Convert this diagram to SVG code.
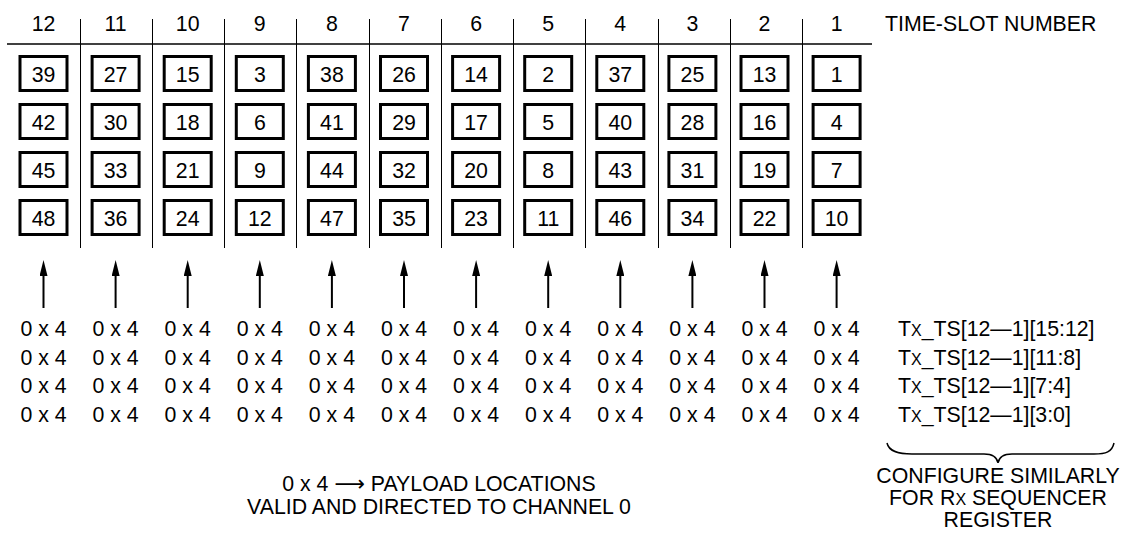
<svg xmlns="http://www.w3.org/2000/svg" width="1123" height="535" viewBox="0 0 1123 535">
<defs>
<style>
text{font-family:"Liberation Sans",Arial,sans-serif;font-size:21.3px;fill:#000}
.c{text-anchor:middle}
.box rect{fill:#fff;stroke:#000;stroke-width:3}
.div{stroke:#000;stroke-width:1}
.arr{stroke:#000;stroke-width:2;fill:none}
.sc{font-size:16px}
</style>
<marker id="ah" markerUnits="userSpaceOnUse" markerWidth="16" markerHeight="8" viewBox="0 0 16 8" refX="0" refY="4" orient="auto">
<path d="M0,0 L16,4 L0,8 z" fill="#000"/>
</marker>
</defs>
<rect width="1123" height="535" fill="#fff"/>

<g id="header">
<line x1="7" y1="44" x2="872" y2="44" stroke="#000" stroke-width="1.5"/>
<text class="c" x="43.5" y="31">12</text>
<text class="c" x="115.6" y="31">11</text>
<text class="c" x="187.7" y="31">10</text>
<text class="c" x="259.8" y="31">9</text>
<text class="c" x="331.9" y="31">8</text>
<text class="c" x="404" y="31">7</text>
<text class="c" x="476.1" y="31">6</text>
<text class="c" x="548.2" y="31">5</text>
<text class="c" x="620.3" y="31">4</text>
<text class="c" x="692.4" y="31">3</text>
<text class="c" x="764.5" y="31">2</text>
<text class="c" x="836.6" y="31">1</text>
<text x="885" y="31">TIME-SLOT NUMBER</text>
</g>

<g id="dividers">
<line class="div" x1="80.5" y1="19" x2="80.5" y2="248"/>
<line class="div" x1="152.5" y1="19" x2="152.5" y2="248"/>
<line class="div" x1="224.5" y1="19" x2="224.5" y2="248"/>
<line class="div" x1="296.5" y1="19" x2="296.5" y2="248"/>
<line class="div" x1="369.5" y1="19" x2="369.5" y2="248"/>
<line class="div" x1="441.5" y1="19" x2="441.5" y2="248"/>
<line class="div" x1="513.5" y1="19" x2="513.5" y2="248"/>
<line class="div" x1="585.5" y1="19" x2="585.5" y2="248"/>
<line class="div" x1="658.5" y1="19" x2="658.5" y2="248"/>
<line class="div" x1="730.5" y1="19" x2="730.5" y2="248"/>
<line class="div" x1="802.5" y1="19" x2="802.5" y2="248"/>
</g>

<g id="col-12" transform="translate(43.5,0)">
<g id="box-39" class="box"><rect x="-23.5" y="56.5" width="47" height="34"/><text class="c" y="82">39</text></g>
<g id="box-42" class="box"><rect x="-23.5" y="104.5" width="47" height="34"/><text class="c" y="130">42</text></g>
<g id="box-45" class="box"><rect x="-23.5" y="152.5" width="47" height="34"/><text class="c" y="178">45</text></g>
<g id="box-48" class="box"><rect x="-23.5" y="200.5" width="47" height="34"/><text class="c" y="226">48</text></g>
</g>
<g id="col-11" transform="translate(115.6,0)">
<g id="box-27" class="box"><rect x="-23.5" y="56.5" width="47" height="34"/><text class="c" y="82">27</text></g>
<g id="box-30" class="box"><rect x="-23.5" y="104.5" width="47" height="34"/><text class="c" y="130">30</text></g>
<g id="box-33" class="box"><rect x="-23.5" y="152.5" width="47" height="34"/><text class="c" y="178">33</text></g>
<g id="box-36" class="box"><rect x="-23.5" y="200.5" width="47" height="34"/><text class="c" y="226">36</text></g>
</g>
<g id="col-10" transform="translate(187.7,0)">
<g id="box-15" class="box"><rect x="-23.5" y="56.5" width="47" height="34"/><text class="c" y="82">15</text></g>
<g id="box-18" class="box"><rect x="-23.5" y="104.5" width="47" height="34"/><text class="c" y="130">18</text></g>
<g id="box-21" class="box"><rect x="-23.5" y="152.5" width="47" height="34"/><text class="c" y="178">21</text></g>
<g id="box-24" class="box"><rect x="-23.5" y="200.5" width="47" height="34"/><text class="c" y="226">24</text></g>
</g>
<g id="col-9" transform="translate(259.8,0)">
<g id="box-3" class="box"><rect x="-23.5" y="56.5" width="47" height="34"/><text class="c" y="82">3</text></g>
<g id="box-6" class="box"><rect x="-23.5" y="104.5" width="47" height="34"/><text class="c" y="130">6</text></g>
<g id="box-9" class="box"><rect x="-23.5" y="152.5" width="47" height="34"/><text class="c" y="178">9</text></g>
<g id="box-12" class="box"><rect x="-23.5" y="200.5" width="47" height="34"/><text class="c" y="226">12</text></g>
</g>
<g id="col-8" transform="translate(331.9,0)">
<g id="box-38" class="box"><rect x="-23.5" y="56.5" width="47" height="34"/><text class="c" y="82">38</text></g>
<g id="box-41" class="box"><rect x="-23.5" y="104.5" width="47" height="34"/><text class="c" y="130">41</text></g>
<g id="box-44" class="box"><rect x="-23.5" y="152.5" width="47" height="34"/><text class="c" y="178">44</text></g>
<g id="box-47" class="box"><rect x="-23.5" y="200.5" width="47" height="34"/><text class="c" y="226">47</text></g>
</g>
<g id="col-7" transform="translate(404,0)">
<g id="box-26" class="box"><rect x="-23.5" y="56.5" width="47" height="34"/><text class="c" y="82">26</text></g>
<g id="box-29" class="box"><rect x="-23.5" y="104.5" width="47" height="34"/><text class="c" y="130">29</text></g>
<g id="box-32" class="box"><rect x="-23.5" y="152.5" width="47" height="34"/><text class="c" y="178">32</text></g>
<g id="box-35" class="box"><rect x="-23.5" y="200.5" width="47" height="34"/><text class="c" y="226">35</text></g>
</g>
<g id="col-6" transform="translate(476.1,0)">
<g id="box-14" class="box"><rect x="-23.5" y="56.5" width="47" height="34"/><text class="c" y="82">14</text></g>
<g id="box-17" class="box"><rect x="-23.5" y="104.5" width="47" height="34"/><text class="c" y="130">17</text></g>
<g id="box-20" class="box"><rect x="-23.5" y="152.5" width="47" height="34"/><text class="c" y="178">20</text></g>
<g id="box-23" class="box"><rect x="-23.5" y="200.5" width="47" height="34"/><text class="c" y="226">23</text></g>
</g>
<g id="col-5" transform="translate(548.2,0)">
<g id="box-2" class="box"><rect x="-23.5" y="56.5" width="47" height="34"/><text class="c" y="82">2</text></g>
<g id="box-5" class="box"><rect x="-23.5" y="104.5" width="47" height="34"/><text class="c" y="130">5</text></g>
<g id="box-8" class="box"><rect x="-23.5" y="152.5" width="47" height="34"/><text class="c" y="178">8</text></g>
<g id="box-11" class="box"><rect x="-23.5" y="200.5" width="47" height="34"/><text class="c" y="226">11</text></g>
</g>
<g id="col-4" transform="translate(620.3,0)">
<g id="box-37" class="box"><rect x="-23.5" y="56.5" width="47" height="34"/><text class="c" y="82">37</text></g>
<g id="box-40" class="box"><rect x="-23.5" y="104.5" width="47" height="34"/><text class="c" y="130">40</text></g>
<g id="box-43" class="box"><rect x="-23.5" y="152.5" width="47" height="34"/><text class="c" y="178">43</text></g>
<g id="box-46" class="box"><rect x="-23.5" y="200.5" width="47" height="34"/><text class="c" y="226">46</text></g>
</g>
<g id="col-3" transform="translate(692.4,0)">
<g id="box-25" class="box"><rect x="-23.5" y="56.5" width="47" height="34"/><text class="c" y="82">25</text></g>
<g id="box-28" class="box"><rect x="-23.5" y="104.5" width="47" height="34"/><text class="c" y="130">28</text></g>
<g id="box-31" class="box"><rect x="-23.5" y="152.5" width="47" height="34"/><text class="c" y="178">31</text></g>
<g id="box-34" class="box"><rect x="-23.5" y="200.5" width="47" height="34"/><text class="c" y="226">34</text></g>
</g>
<g id="col-2" transform="translate(764.5,0)">
<g id="box-13" class="box"><rect x="-23.5" y="56.5" width="47" height="34"/><text class="c" y="82">13</text></g>
<g id="box-16" class="box"><rect x="-23.5" y="104.5" width="47" height="34"/><text class="c" y="130">16</text></g>
<g id="box-19" class="box"><rect x="-23.5" y="152.5" width="47" height="34"/><text class="c" y="178">19</text></g>
<g id="box-22" class="box"><rect x="-23.5" y="200.5" width="47" height="34"/><text class="c" y="226">22</text></g>
</g>
<g id="col-1" transform="translate(836.6,0)">
<g id="box-1" class="box"><rect x="-23.5" y="56.5" width="47" height="34"/><text class="c" y="82">1</text></g>
<g id="box-4" class="box"><rect x="-23.5" y="104.5" width="47" height="34"/><text class="c" y="130">4</text></g>
<g id="box-7" class="box"><rect x="-23.5" y="152.5" width="47" height="34"/><text class="c" y="178">7</text></g>
<g id="box-10" class="box"><rect x="-23.5" y="200.5" width="47" height="34"/><text class="c" y="226">10</text></g>
</g>

<g id="connectors">
<line class="arr" x1="43.5" y1="308" x2="43.5" y2="276" marker-end="url(#ah)"/>
<line class="arr" x1="115.6" y1="308" x2="115.6" y2="276" marker-end="url(#ah)"/>
<line class="arr" x1="187.7" y1="308" x2="187.7" y2="276" marker-end="url(#ah)"/>
<line class="arr" x1="259.8" y1="308" x2="259.8" y2="276" marker-end="url(#ah)"/>
<line class="arr" x1="331.9" y1="308" x2="331.9" y2="276" marker-end="url(#ah)"/>
<line class="arr" x1="404" y1="308" x2="404" y2="276" marker-end="url(#ah)"/>
<line class="arr" x1="476.1" y1="308" x2="476.1" y2="276" marker-end="url(#ah)"/>
<line class="arr" x1="548.2" y1="308" x2="548.2" y2="276" marker-end="url(#ah)"/>
<line class="arr" x1="620.3" y1="308" x2="620.3" y2="276" marker-end="url(#ah)"/>
<line class="arr" x1="692.4" y1="308" x2="692.4" y2="276" marker-end="url(#ah)"/>
<line class="arr" x1="764.5" y1="308" x2="764.5" y2="276" marker-end="url(#ah)"/>
<line class="arr" x1="836.6" y1="308" x2="836.6" y2="276" marker-end="url(#ah)"/>
</g>

<g id="values">
<g transform="translate(0,336)">
<text class="c" x="43.5">0 x 4</text><text class="c" x="115.6">0 x 4</text><text class="c" x="187.7">0 x 4</text><text class="c" x="259.8">0 x 4</text><text class="c" x="331.9">0 x 4</text><text class="c" x="404">0 x 4</text><text class="c" x="476.1">0 x 4</text><text class="c" x="548.2">0 x 4</text><text class="c" x="620.3">0 x 4</text><text class="c" x="692.4">0 x 4</text><text class="c" x="764.5">0 x 4</text><text class="c" x="836.6">0 x 4</text>
<text x="898">T<tspan class="sc">X</tspan>_TS[12—1][15:12]</text>
</g>
<g transform="translate(0,364.5)">
<text class="c" x="43.5">0 x 4</text><text class="c" x="115.6">0 x 4</text><text class="c" x="187.7">0 x 4</text><text class="c" x="259.8">0 x 4</text><text class="c" x="331.9">0 x 4</text><text class="c" x="404">0 x 4</text><text class="c" x="476.1">0 x 4</text><text class="c" x="548.2">0 x 4</text><text class="c" x="620.3">0 x 4</text><text class="c" x="692.4">0 x 4</text><text class="c" x="764.5">0 x 4</text><text class="c" x="836.6">0 x 4</text>
<text x="898">T<tspan class="sc">X</tspan>_TS[12—1][11:8]</text>
</g>
<g transform="translate(0,393)">
<text class="c" x="43.5">0 x 4</text><text class="c" x="115.6">0 x 4</text><text class="c" x="187.7">0 x 4</text><text class="c" x="259.8">0 x 4</text><text class="c" x="331.9">0 x 4</text><text class="c" x="404">0 x 4</text><text class="c" x="476.1">0 x 4</text><text class="c" x="548.2">0 x 4</text><text class="c" x="620.3">0 x 4</text><text class="c" x="692.4">0 x 4</text><text class="c" x="764.5">0 x 4</text><text class="c" x="836.6">0 x 4</text>
<text x="898">T<tspan class="sc">X</tspan>_TS[12—1][7:4]</text>
</g>
<g transform="translate(0,421.5)">
<text class="c" x="43.5">0 x 4</text><text class="c" x="115.6">0 x 4</text><text class="c" x="187.7">0 x 4</text><text class="c" x="259.8">0 x 4</text><text class="c" x="331.9">0 x 4</text><text class="c" x="404">0 x 4</text><text class="c" x="476.1">0 x 4</text><text class="c" x="548.2">0 x 4</text><text class="c" x="620.3">0 x 4</text><text class="c" x="692.4">0 x 4</text><text class="c" x="764.5">0 x 4</text><text class="c" x="836.6">0 x 4</text>
<text x="898">T<tspan class="sc">X</tspan>_TS[12—1][3:0]</text>
</g>
</g>

<g id="brace">
<path d="M887,443 C889,452 899,454 912,454 L984,454 C992,454 997,457 998,463 C999,457 1004,454 1012,454 L1094,454 C1106,454 1112,452 1114,443" fill="none" stroke="#000" stroke-width="1.5"/>
</g>

<g id="legend">
<text class="c" x="439" y="491">0 x 4 <tspan font-family="'DejaVu Sans',sans-serif">⟶</tspan> PAYLOAD LOCATIONS</text>
<text class="c" x="439" y="514">VALID AND DIRECTED TO CHANNEL 0</text>
</g>

<g id="note">
<text class="c" x="998" y="483">CONFIGURE SIMILARLY</text>
<text class="c" x="998" y="505">FOR R<tspan class="sc">X</tspan> SEQUENCER</text>
<text class="c" x="998" y="527">REGISTER</text>
</g>
</svg>
